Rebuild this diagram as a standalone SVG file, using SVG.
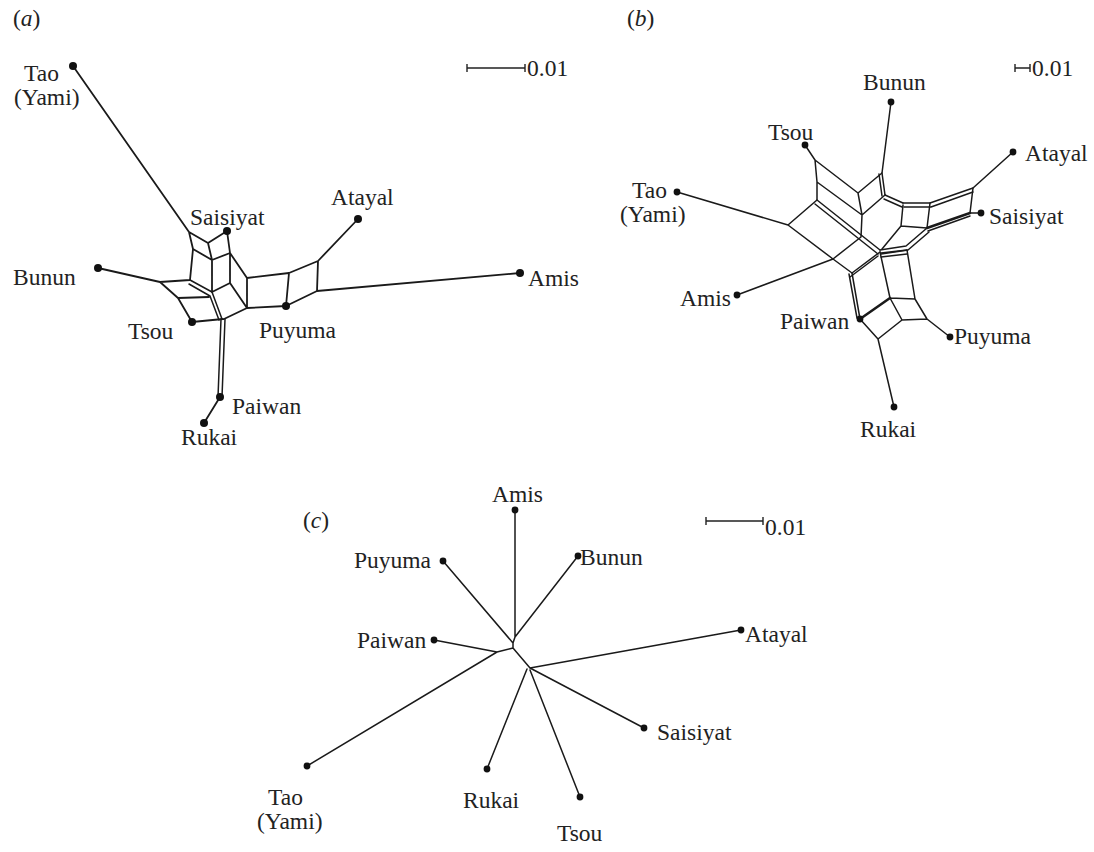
<svg xmlns="http://www.w3.org/2000/svg" width="1094" height="852" viewBox="0 0 1094 852">
<style>
.e{stroke:#1a1a1a;stroke-width:1.8;fill:none;stroke-linejoin:round;stroke-linecap:round}
.f{stroke:#1a1a1a;stroke-width:1.5;fill:none;stroke-linejoin:round;stroke-linecap:round}
.h{stroke:#1a1a1a;stroke-width:2.6;fill:none;stroke-linecap:round}
.d{fill:#111}
text{font-family:"Liberation Serif","Times New Roman",serif;font-size:23.5px;fill:#222}
.sb{stroke:#222;stroke-width:1.4;fill:none}
</style>
<rect width="1094" height="852" fill="#fff"/>

<!-- ============ Panel (a) ============ -->
<g id="panel-a">
<text x="13" y="26">(<tspan font-style="italic">a</tspan>)</text>
<g id="scale-a"><path class="sb" d="M467,68H525M467,64V72M525,64V72"/><text x="527" y="76">0.01</text></g>
<g id="a-edges">
<path class="e" d="M73,66L189,232 M189,232L208,243L227,231 M189,232L193,249L212,260L208,243 M227,231L230,253L212,260 M230,253L247,278 M193,249L190,280 M212,260L212,292 L230,283L230,253 M230,283L247,308L247,278 M247,278L289,273L286,306L247,308 M289,273L318,261L317,291L286,306 M318,261L358,219 M317,291L520,273 M98,268L160,282L190,280 M160,282L178,298L209,297 M178,298L192,322L223,319 M247,308L224,319 M220,397L204,423"/>
<path class="f" d="M190,280L212,292L222,319 M189,284L210,296L219,320"/>
<path class="f" d="M221,319L218,397 M225,319L222,397"/>
</g>
<g id="a-tao"><circle class="d" cx="73" cy="66" r="4"/><text x="24" y="81">Tao</text><text x="14" y="105">(Yami)</text></g>
<g id="a-saisiyat"><circle class="d" cx="227" cy="231" r="4"/><text x="190" y="225">Saisiyat</text></g>
<g id="a-atayal"><circle class="d" cx="358" cy="219" r="4"/><text x="331" y="205">Atayal</text></g>
<g id="a-bunun"><circle class="d" cx="98" cy="268" r="4"/><text x="13" y="285">Bunun</text></g>
<g id="a-amis"><circle class="d" cx="520" cy="273" r="4"/><text x="528" y="286">Amis</text></g>
<g id="a-tsou"><circle class="d" cx="192" cy="322" r="4"/><text x="128" y="339">Tsou</text></g>
<g id="a-puyuma"><circle class="d" cx="286" cy="306" r="4"/><text x="259" y="338">Puyuma</text></g>
<g id="a-paiwan"><circle class="d" cx="220" cy="397" r="4"/><text x="232" y="414">Paiwan</text></g>
<g id="a-rukai"><circle class="d" cx="204" cy="423" r="4"/><text x="181" y="445">Rukai</text></g>
</g>

<!-- ============ Panel (b) ============ -->
<g id="panel-b">
<text x="627" y="26">(<tspan font-style="italic">b</tspan>)</text>
<g id="scale-b"><path class="sb" d="M1015,68H1030M1015,64V72M1030,64V72"/><text x="1032" y="76">0.01</text></g>
<g id="b-edges">
<path class="f" d="M805,145L815,160L817,182L862,215L858,193L815,160 M858,193L882,173L891,102 M862,215L885,195 M817,182L817,200L788,225L677,192 M788,225L833,259L737,295 M862,215L861,237L833,259 M1013,152L973,188L970,213L980,213 M930,203L927,228 M890,298L915,299L927,319L950,337 M860,319L878,339L902,320L927,319 M890,298L902,320 M878,339L894,407 M880,252L890,298 M907,250L915,299 M903,205L901,226L927,228 M901,226L882,249"/>
<path class="f" d="M882,173L885,195 M879,174L882,196"/>
<path class="f" d="M885,195L903,203 M884,199L902,207"/>
<path class="f" d="M973,188L930,203L903,203 M973,192L931,207L904,207"/>
<path class="h" d="M970,213L927,228"/>
<path class="f" d="M970,216L928,231"/>
<path class="f" d="M927,228L906,246L880,250 M929,232L908,250L881,254"/>
<path class="f" d="M817,200L880,250 M815,204L878,254"/>
<path class="f" d="M833,259L852,273L880,252 M850,277L878,256"/>
<path class="f" d="M852,273L860,319 M849,274L857,318"/>
<path class="f" d="M881,253L907,250 M881,257L907,254"/>
<path class="h" d="M860,319L890,298"/>
</g>
<g id="b-bunun"><circle class="d" cx="891" cy="102" r="3.4"/><text x="863" y="90">Bunun</text></g>
<g id="b-tsou"><circle class="d" cx="805" cy="145" r="3.4"/><text x="768" y="140">Tsou</text></g>
<g id="b-atayal"><circle class="d" cx="1013" cy="152" r="3.4"/><text x="1025" y="161">Atayal</text></g>
<g id="b-tao"><circle class="d" cx="677" cy="192" r="3.4"/><text x="632" y="198">Tao</text><text x="620" y="222">(Yami)</text></g>
<g id="b-saisiyat"><circle class="d" cx="981" cy="213" r="3.4"/><text x="989" y="224">Saisiyat</text></g>
<g id="b-amis"><circle class="d" cx="737" cy="295" r="3.4"/><text x="680" y="306">Amis</text></g>
<g id="b-paiwan"><circle class="d" cx="860" cy="319" r="3.4"/><text x="780" y="329">Paiwan</text></g>
<g id="b-puyuma"><circle class="d" cx="950" cy="337" r="3.4"/><text x="954" y="344">Puyuma</text></g>
<g id="b-rukai"><circle class="d" cx="894" cy="407" r="3.4"/><text x="860" y="437">Rukai</text></g>
</g>

<!-- ============ Panel (c) ============ -->
<g id="panel-c">
<text x="303" y="528">(<tspan font-style="italic">c</tspan>)</text>
<g id="scale-c"><path class="sb" d="M706,521H763M706,517V525M763,517V525"/><text x="765" y="535">0.01</text></g>
<g id="c-edges">
<path class="f" d="M515,510L515,637 M578,556L515,637 M443,561L513,643 M515,637L513,643 M434,640L497,652 M307,766L497,652 M497,652L513,648 M513,643L513,648L530,668 M530,668L741,630 M530,668L644,728 M487,769L527,669 M580,797L530,670"/>
</g>
<g id="c-amis"><circle class="d" cx="515" cy="510" r="3.4"/><text x="492" y="502">Amis</text></g>
<g id="c-bunun"><circle class="d" cx="578" cy="556" r="3.4"/><text x="580" y="565">Bunun</text></g>
<g id="c-puyuma"><circle class="d" cx="443" cy="561" r="3.4"/><text x="354" y="568">Puyuma</text></g>
<g id="c-paiwan"><circle class="d" cx="434" cy="640" r="3.4"/><text x="357" y="648">Paiwan</text></g>
<g id="c-atayal"><circle class="d" cx="741" cy="630" r="3.4"/><text x="745" y="642">Atayal</text></g>
<g id="c-saisiyat"><circle class="d" cx="644" cy="728" r="3.4"/><text x="657" y="740">Saisiyat</text></g>
<g id="c-tao"><circle class="d" cx="307" cy="766" r="3.4"/><text x="268" y="805">Tao</text><text x="257" y="829">(Yami)</text></g>
<g id="c-rukai"><circle class="d" cx="487" cy="769" r="3.4"/><text x="463" y="808">Rukai</text></g>
<g id="c-tsou"><circle class="d" cx="580" cy="797" r="3.4"/><text x="557" y="841">Tsou</text></g>
</g>
</svg>
